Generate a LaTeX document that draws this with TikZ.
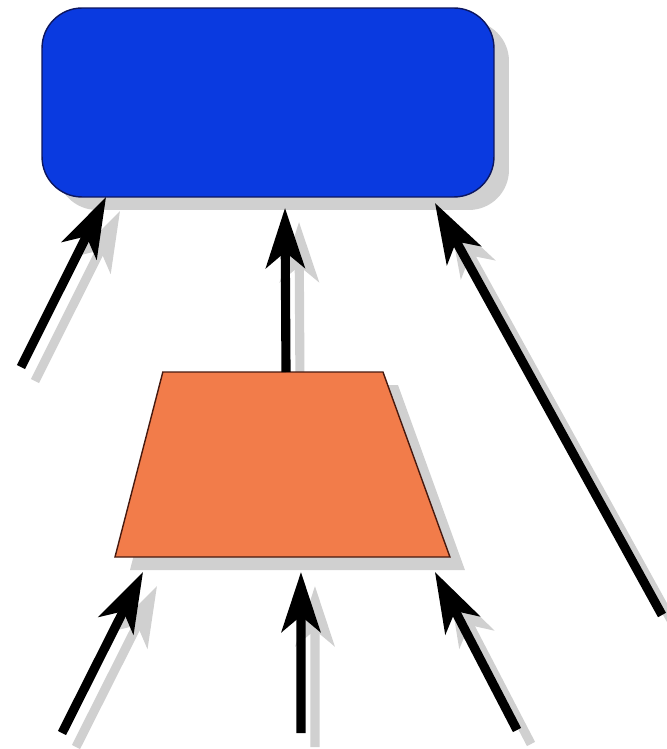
\documentclass[tikz,border=0pt]{standalone}
\usepackage{tikz}
\usetikzlibrary{shapes.geometric, arrows.meta, shadows, backgrounds}
\definecolor{boxblue}{RGB}{10,58,224}
\definecolor{boxedge}{RGB}{12,22,96}
\definecolor{trapfill}{RGB}{242,124,74}
\definecolor{trapedge}{RGB}{70,25,15}
\definecolor{shadowgray}{RGB}{208,208,208}

\tikzset{
  boxshadow/.style={drop shadow={shadow xshift=0.3cm, shadow yshift=-0.26cm, fill=shadowgray, opacity=1}},
  bigbox/.style={draw=boxedge, fill=boxblue, line width=0.8pt, rounded corners=0.8cm,
                 minimum width=9.04cm, minimum height=3.78cm, inner sep=0pt, outer sep=0pt, boxshadow},
  trapbox/.style={trapezium, trapezium stretches body, draw=trapedge, fill=trapfill, line width=0.8pt,
                  trapezium left angle=75.5, trapezium right angle=70.1,
                  minimum width=6.7cm, inner sep=0pt, outer sep=0pt, boxshadow},
  flow/.style={black, line width=5.2pt, -{Stealth[length=34pt, width=22pt, inset=9pt]}},
  ghost/.style={flow, shadowgray}
}

\begin{document}
\begin{tikzpicture}[x=0.02cm, y=-0.02cm]
    \useasboundingbox (0,0) rectangle (666,749);

    % Blocks
    \node[bigbox] (top) at (268,102.5) {};
    \node[trapbox, anchor=bottom left corner] (trap) at (115,557) {\rule{0pt}{3.7cm}};

    % Free ends of the arrows
    \coordinate (s1) at (21,367);
    \coordinate (s3) at (662,615);
    \coordinate (s4) at (62,733);
    \coordinate (s5) at (301,733);
    \coordinate (s6) at (517,730);
    \coordinate (a2) at (286,372);

    % Where the tips land
    \coordinate (t1) at ([shift={(64,0)}]top.south west);
    \coordinate (t2) at ([shift={(17,11)}]top.south);
    \coordinate (t3) at ([shift={(-59,6)}]top.south east);
    \coordinate (t4) at ([shift={(28,15)}]trap.bottom left corner);
    \coordinate (t5) at ([shift={(18.5,15)}]trap.bottom side);
    \coordinate (t6) at ([shift={(-15,15)}]trap.bottom right corner);

    % Arrows with their shadows
    \foreach \s/\t in {s1/t1, a2/t2, s3/t3, s4/t4, s5/t5, s6/t6} {
        \begin{scope}[on background layer]
            \draw[ghost] ([shift={(14,14)}]\s) -- ([shift={(14,14)}]\t);
        \end{scope}
        \draw[flow] (\s) -- (\t);
    }
\end{tikzpicture}
\end{document}
